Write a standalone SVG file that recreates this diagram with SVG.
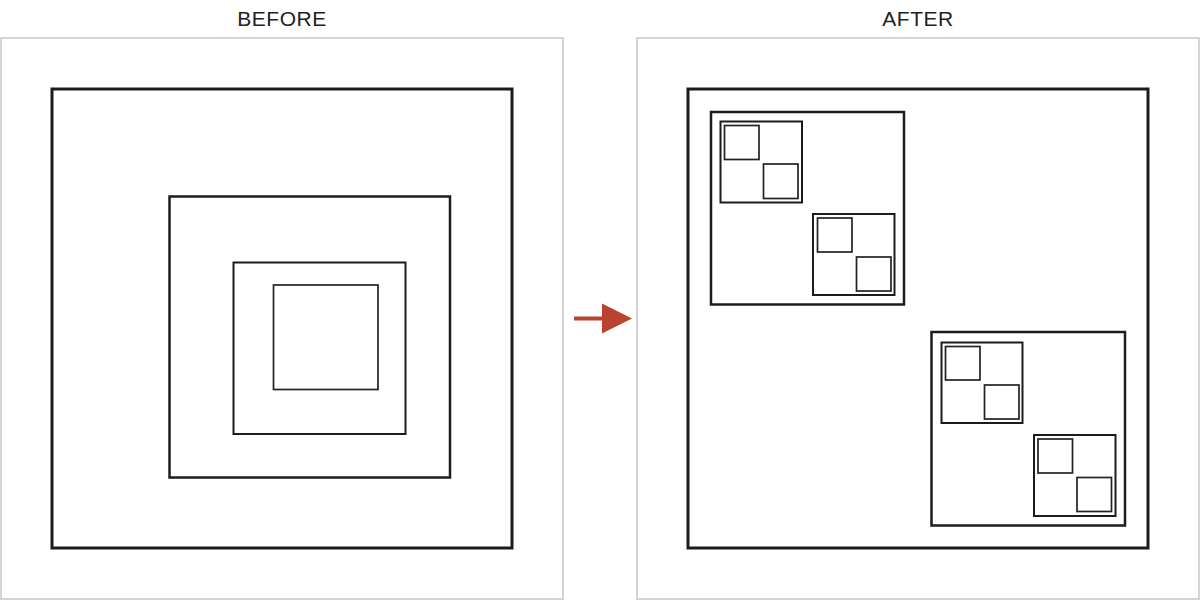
<svg xmlns="http://www.w3.org/2000/svg" width="1200" height="601" viewBox="0 0 1200 601">
  <style>
    .panel { fill: #ffffff; stroke: #d4d4d4; stroke-width: 2; }
    .title { font-family: "Liberation Sans", Arial, sans-serif; font-size: 21px; fill: #222222; text-anchor: middle; letter-spacing: 0.5px; }
    .b3 { fill: none; stroke: #1c1c1c; stroke-width: 3; }
    .b25 { fill: none; stroke: #1c1c1c; stroke-width: 2.5; }
    .b2 { fill: none; stroke: #1c1c1c; stroke-width: 2; }
    .b17 { fill: none; stroke: #222222; stroke-width: 1.7; }
  </style>
  <rect width="1200" height="601" fill="#ffffff"/>

  <g id="before-panel">
    <rect class="panel" x="1" y="38" width="562" height="561"/>
    <text class="title" x="282" y="25.5">BEFORE</text>
    <g id="before-outer"><rect class="b3" x="52" y="89" width="460" height="459"/></g>
    <g id="before-mid"><rect class="b25" x="169.5" y="196.5" width="280.5" height="281"/></g>
    <g id="before-inner"><rect class="b2" x="233.5" y="262.5" width="172" height="171.5"/></g>
    <g id="before-core"><rect class="b17" x="273.5" y="285" width="104.5" height="104.5"/></g>
  </g>

  <g id="after-panel">
    <rect class="panel" x="637" y="38" width="562" height="561"/>
    <text class="title" x="918" y="25.5">AFTER</text>
    <g id="after-outer"><rect class="b3" x="688" y="89" width="460" height="459"/></g>

    <g id="after-mid-1">
      <rect class="b25" x="711" y="112" width="193" height="192.5"/>
      <g id="after-small-1">
        <rect class="b2" x="720.5" y="121.5" width="81.5" height="81"/>
        <rect class="b17" x="724.5" y="125.5" width="34.5" height="34"/>
        <rect class="b17" x="763.5" y="164" width="34.5" height="34.5"/>
      </g>
      <g id="after-small-2">
        <rect class="b2" x="813" y="214" width="81.5" height="81"/>
        <rect class="b17" x="817.5" y="218" width="34.5" height="34"/>
        <rect class="b17" x="856.5" y="257" width="34.5" height="34"/>
      </g>
    </g>

    <g id="after-mid-2">
      <rect class="b25" x="931.5" y="332" width="193.5" height="193.5"/>
      <g id="after-small-3">
        <rect class="b2" x="941.5" y="342.5" width="81" height="80.5"/>
        <rect class="b17" x="945.5" y="346.5" width="34.5" height="33.5"/>
        <rect class="b17" x="984.5" y="385" width="34.5" height="34"/>
      </g>
      <g id="after-small-4">
        <rect class="b2" x="1034" y="435" width="81.5" height="81"/>
        <rect class="b17" x="1038" y="439" width="34.5" height="34"/>
        <rect class="b17" x="1077" y="477.5" width="34.5" height="34"/>
      </g>
    </g>
  </g>

  <g id="connectors">
    <line x1="574" y1="318.5" x2="604" y2="318.5" stroke="#b8432e" stroke-width="4"/>
    <polygon points="602,303.5 632,318.5 602,333.5" fill="#b8432e"/>
  </g>
</svg>
